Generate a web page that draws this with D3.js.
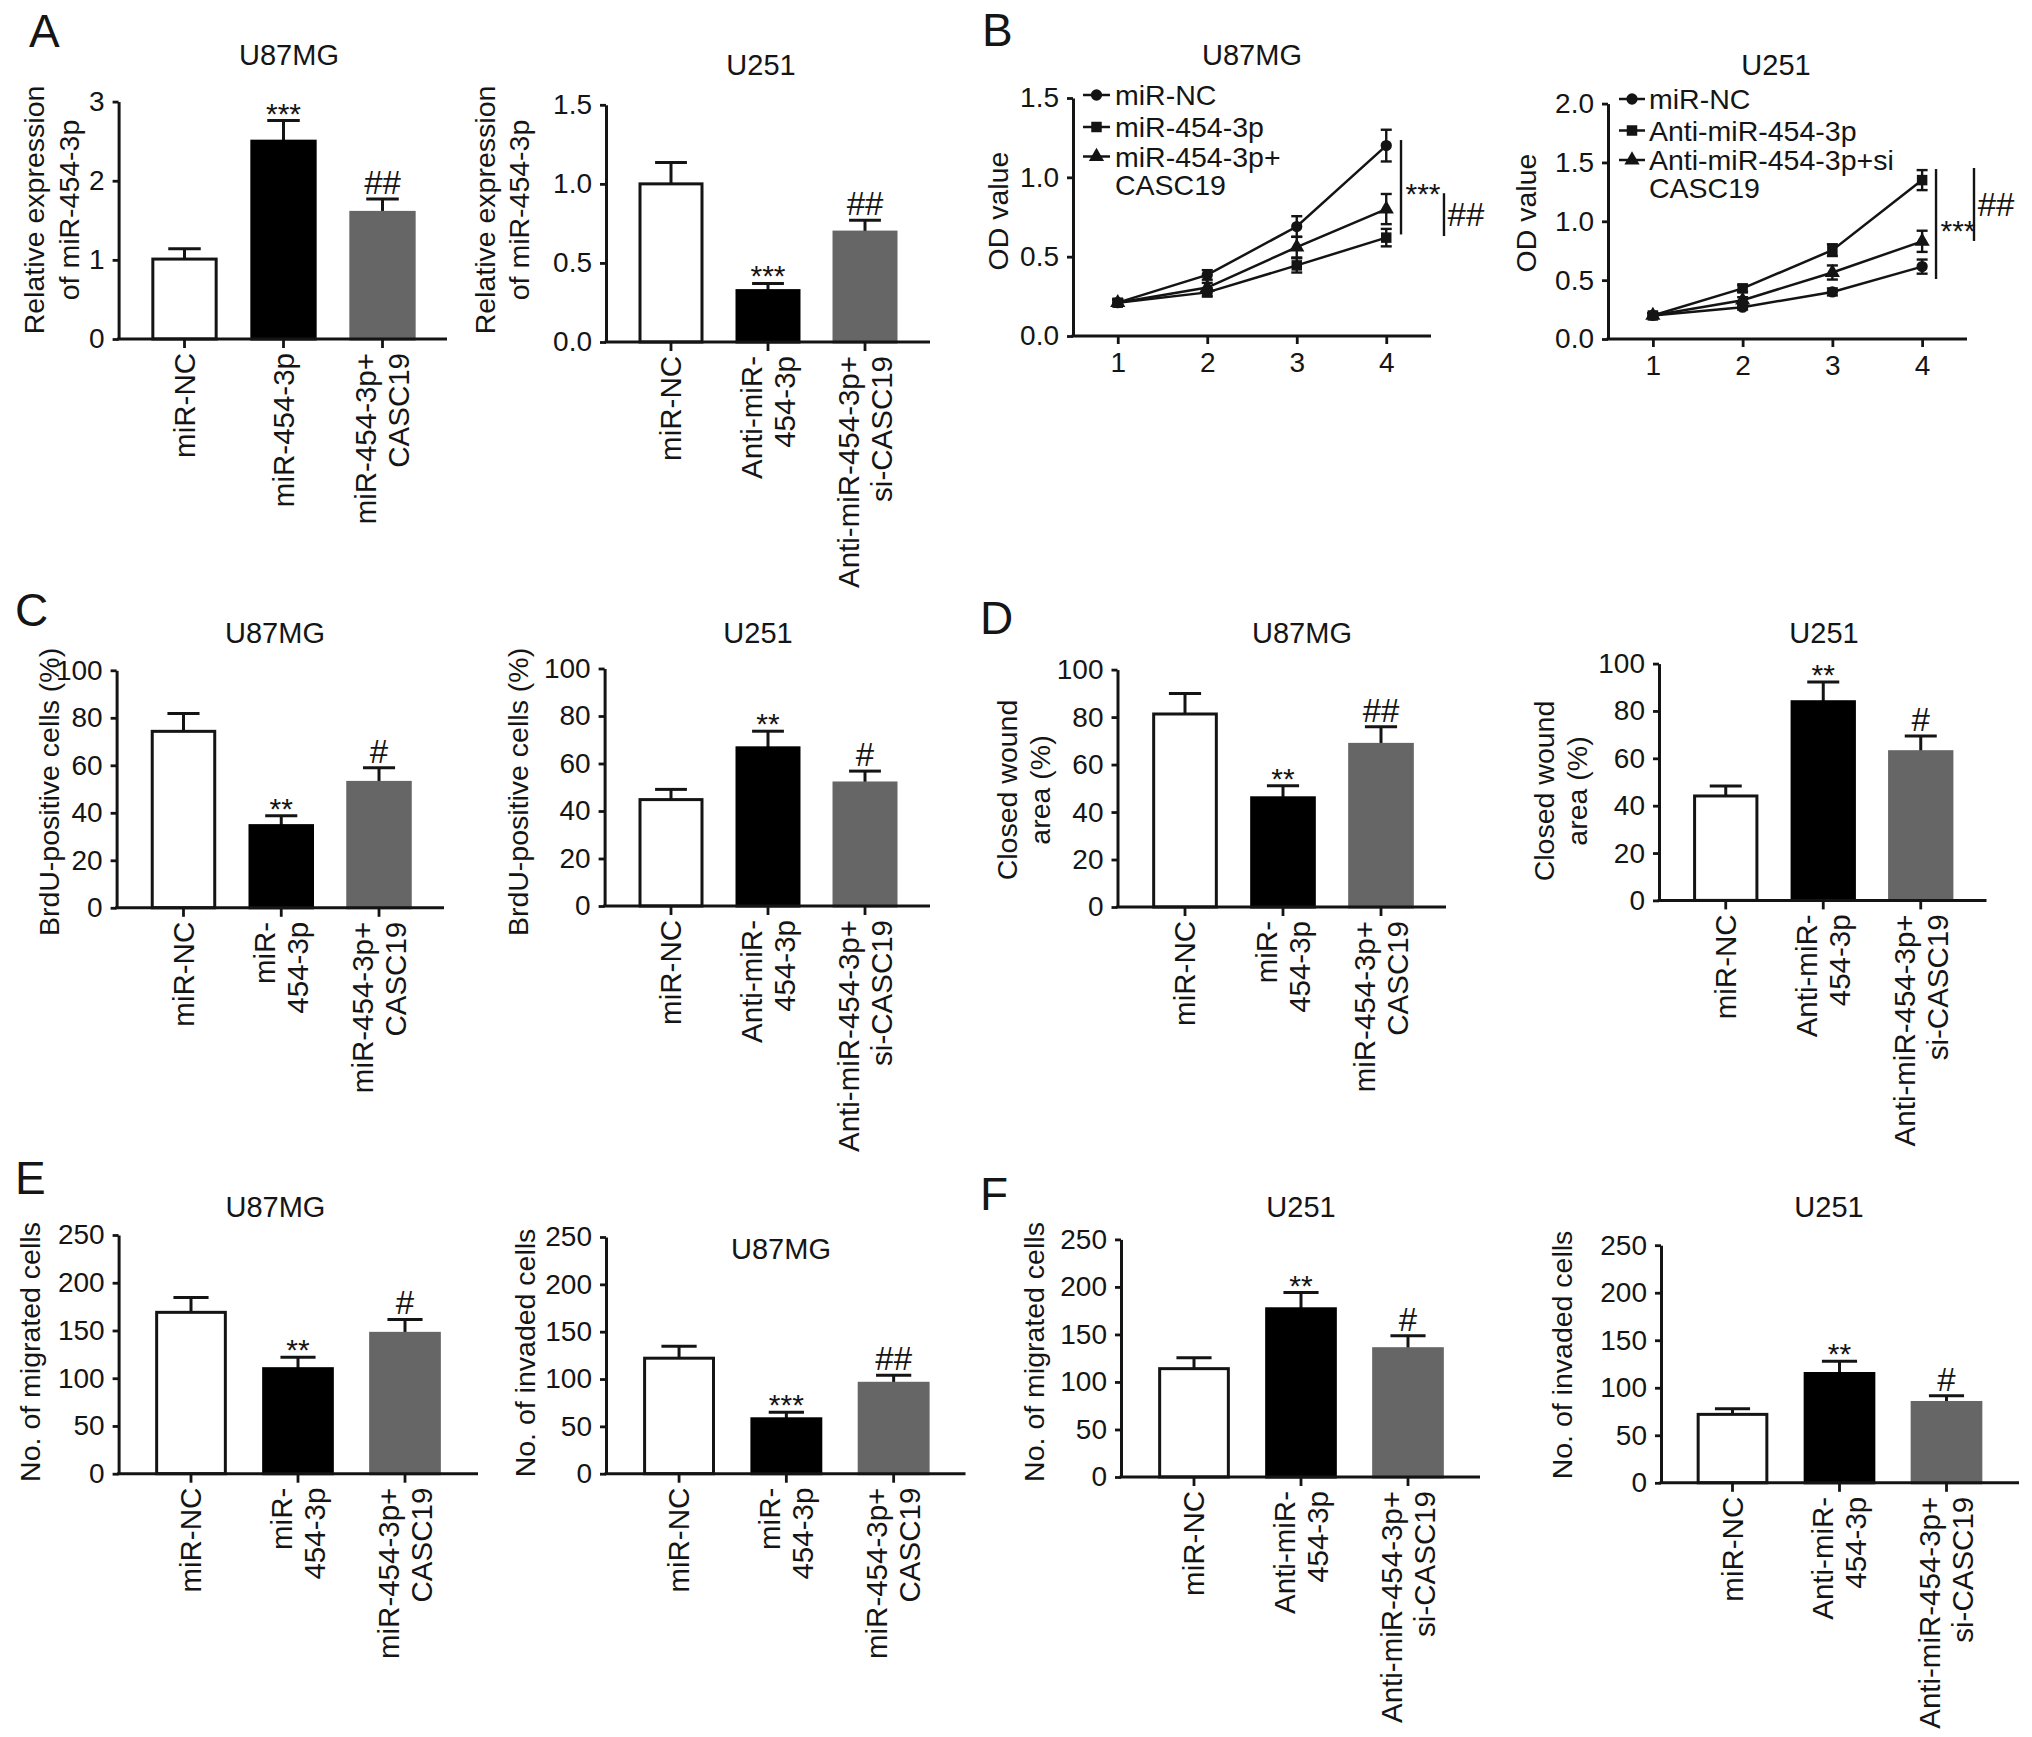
<!DOCTYPE html>
<html><head><meta charset="utf-8">
<script src="https://cdn.jsdelivr.net/npm/d3@7"></script>
<style>
body{margin:0;background:#fff}
text{font-family:"Liberation Sans",Arial,Helvetica,sans-serif;fill:#151515}
</style>
</head><body><script>
// ---------------- DATA ----------------
const labelsU87A = ["miR-NC", "miR-454-3p", "miR-454-3p+|CASC19"];
const labelsU87 = ["miR-NC", "miR-|454-3p", "miR-454-3p+|CASC19"];
const labelsU251 = ["miR-NC", "Anti-miR-|454-3p", "Anti-miR-454-3p+|si-CASC19"];

const ticksA1 = [0, 1, 2, 3];
const ticksA2 = [0, 0.5, 1.0, 1.5];
const ticksPct = [0, 20, 40, 60, 80, 100];
const ticksCells = [0, 50, 100, 150, 200, 250];
const ticksB1 = [0, 0.5, 1.0, 1.5];
const ticksB2 = [0, 0.5, 1.0, 1.5, 2.0];

const aLeftMean = [1.01, 2.50, 1.60];   const aLeftErr = [0.13, 0.26, 0.17];   const aLeftSig = ["", "***", "##"];
const aRightMean = [1.00, 0.325, 0.695]; const aRightErr = [0.135, 0.045, 0.075]; const aRightSig = ["", "***", "##"];
const cLeftMean = [74.3, 34.6, 52.8];   const cLeftErr = [7.5, 4.2, 6.2];      const cLeftSig = ["", "**", "#"];
const cRightMean = [44.8, 66.6, 51.8];  const cRightErr = [4.3, 7.0, 5.0];     const cRightSig = ["", "**", "#"];
const dLeftMean = [81.3, 46.0, 68.5];   const dLeftErr = [8.6, 5.1, 7.4];      const dLeftSig = ["", "**", "##"];
const dRightMean = [44.1, 83.9, 62.8];  const dRightErr = [4.2, 8.3, 6.6];     const dRightSig = ["", "**", "#"];
const eLeftMean = [169, 110, 147];      const eLeftErr = [15.5, 12, 14.5];     const eLeftSig = ["", "**", "#"];
const eRightMean = [122, 58, 95.5];     const eRightErr = [12.5, 7, 8.5];      const eRightSig = ["", "***", "##"];
const fLeftMean = [114, 177, 135];      const fLeftErr = [11.5, 17, 13.5];     const fLeftSig = ["", "**", "#"];
const fRightMean = [72, 115, 84.5];     const fRightErr = [6, 13, 7];          const fRightSig = ["", "**", "#"];

const days = [1, 2, 3, 4];
const bLeftNC = [0.21, 0.385, 0.69, 1.20];     const bLeftNCErr = [0.02, 0.03, 0.065, 0.10];
const bLeftMiR = [0.21, 0.275, 0.445, 0.62];   const bLeftMiRErr = [0.02, 0.025, 0.045, 0.055];
const bLeftCombo = [0.21, 0.305, 0.56, 0.80];  const bLeftComboErr = [0.02, 0.03, 0.065, 0.095];
const bRightNC = [0.20, 0.27, 0.40, 0.615];    const bRightNCErr = [0.02, 0.02, 0.03, 0.06];
const bRightAnti = [0.20, 0.43, 0.755, 1.35];  const bRightAntiErr = [0.02, 0.03, 0.05, 0.085];
const bRightCombo = [0.20, 0.33, 0.565, 0.83]; const bRightComboErr = [0.02, 0.025, 0.06, 0.09];
const bLeftLegend = ["miR-NC", "miR-454-3p", "miR-454-3p+", "CASC19"];
const bRightLegend = ["miR-NC", "Anti-miR-454-3p", "Anti-miR-454-3p+si", "CASC19"];
const bLeftSig = [{lo: 0.64, hi: 1.235, label: "***"}, {lo: 0.63, hi: 0.90, label: "##"}];
const bRightSig = [{lo: 0.51, hi: 1.444, label: "***"}, {lo: 0.833, hi: 1.453, label: "##"}];

// ---------------- STYLE / LAYOUT ----------------
const W = 2032, H = 1737;
const INK = "#141414";
const fills = ["#ffffff", "#000000", "#666666"];
const strokes = [INK, "#000000", "#666666"];
const FS = {tick: 28, title: 29, cat: 29.5, ylab: 28.5, star: 30, hash: 33, letter: 46, legend: 28.5};

const svg = d3.select("body").append("svg").attr("width", W).attr("height", H)
  .attr("viewBox", `0 0 ${W} ${H}`);
svg.append("rect").attr("width", W).attr("height", H).attr("fill", "#fff");

function styleAxis(g) {
  g.select(".domain").attr("stroke", INK).attr("stroke-width", 3);
  g.selectAll(".tick line").attr("stroke", INK).attr("stroke-width", 2.8);
  g.selectAll(".tick text").attr("font-size", FS.tick).attr("fill", INK)
    .style("font-family", '"Liberation Sans",Arial,sans-serif');
}

function yLabel(g, lines, xs, yc) {
  lines.forEach((t, j) => {
    g.append("text").attr("transform", `translate(${xs[j]},${yc}) rotate(-90)`)
      .attr("text-anchor", "middle").attr("dy", "0.35em").attr("font-size", FS.ylab).text(t);
  });
}

function sigText(g, cx, yRef, label, centered) {
  const star = label.includes("*");
  const fs = star ? FS.star : FS.hash;
  // yRef: error cap (bar charts) or vertical centre (bracket labels)
  const yb = centered ? yRef + (star ? 0.57 * fs : 0.35 * fs) : yRef + (star ? 3 : -5);
  g.append("text").attr("x", cx).attr("y", yb).attr("text-anchor", "middle")
    .attr("font-size", fs).text(label);
}

function fmtFor(ticks) {
  const dec = ticks.some(v => v % 1 !== 0);
  return d => dec ? d3.format(".1f")(d) : d3.format("d")(d);
}

function barPanel(p) {
  const L = p.L;
  const g = svg.append("g");
  const x = d3.scaleBand().domain(d3.range(p.mean.length)).range([L.b0, L.b1])
    .paddingInner(0.33).paddingOuter(0.165);
  const ymax = p.ticks[p.ticks.length - 1];
  const y = d3.scaleLinear().domain([0, ymax]).range([L.y0, L.yt]);
  const bw = x.bandwidth();

  p.mean.forEach((m, i) => {
    const cx = x(i) + bw / 2, yt = y(m + p.err[i]);
    g.append("line").attr("x1", cx).attr("x2", cx).attr("y1", y(m)).attr("y2", yt)
      .attr("stroke", INK).attr("stroke-width", 3);
    g.append("line").attr("x1", cx - bw * 0.245).attr("x2", cx + bw * 0.245).attr("y1", yt).attr("y2", yt)
      .attr("stroke", INK).attr("stroke-width", 3);
    if (p.sig[i]) sigText(g, cx, yt, p.sig[i], false);
  });
  g.selectAll("rect.bar").data(p.mean).join("rect").attr("class", "bar")
    .attr("x", (d, i) => x(i) + 1.5).attr("width", bw - 3)
    .attr("y", d => y(d)).attr("height", d => L.y0 - y(d))
    .attr("fill", (d, i) => fills[i]).attr("stroke", (d, i) => strokes[i]).attr("stroke-width", 3);

  const ya = d3.axisLeft(y).tickValues(p.ticks).tickFormat(fmtFor(p.ticks)).tickSize(6).tickPadding(8).tickSizeOuter(0);
  styleAxis(g.append("g").attr("transform", `translate(${L.ax},0)`).call(ya));
  const xa = d3.axisBottom(x).tickSize(9).tickFormat("").tickSizeOuter(0);
  const xg = g.append("g").attr("transform", `translate(0,${L.y0})`).call(xa);
  xg.select(".domain").remove();
  styleAxis(xg);
  g.append("line").attr("x1", L.ax - 1.5).attr("x2", L.ex).attr("y1", L.y0).attr("y2", L.y0)
    .attr("stroke", INK).attr("stroke-width", 3);

  p.labels.forEach((lab, i) => {
    const lines = lab.split("|");
    const cx = x(i) + bw / 2;
    lines.forEach((t, j) => {
      const off = (j - (lines.length - 1) / 2) * 33;
      g.append("text").attr("transform", `translate(${cx + off},${L.y0 + 14}) rotate(-90)`)
        .attr("text-anchor", "end").attr("dy", "0.35em").attr("font-size", FS.cat).text(t);
    });
  });
  g.append("text").attr("x", L.tx).attr("y", L.ty).attr("text-anchor", "middle")
    .attr("font-size", FS.title).text(p.title);
  yLabel(g, p.ylab, L.lx, L.ly);
}

const shapes = [d3.symbolCircle, d3.symbolSquare, d3.symbolTriangle];
const sizes = [100, 110, 100];

function linePanel(p) {
  const L = p.L;
  const g = svg.append("g");
  const x = d3.scaleLinear().domain([0.5, 4.5]).range([L.ax, L.ex]);
  const ymax = p.ticks[p.ticks.length - 1];
  const y = d3.scaleLinear().domain([0, ymax]).range([L.y0, L.yt]);
  const line = d3.line().x((d, i) => x(days[i])).y(d => y(d));

  p.series.forEach(s => {
    g.append("path").attr("d", line(s.v)).attr("fill", "none").attr("stroke", INK).attr("stroke-width", 2.5);
    s.v.forEach((v, i) => {
      const cx = x(days[i]), e = s.e[i];
      g.append("line").attr("x1", cx).attr("x2", cx).attr("y1", y(v - e)).attr("y2", y(v + e))
        .attr("stroke", INK).attr("stroke-width", 2.4);
      [v - e, v + e].forEach(w => g.append("line").attr("x1", cx - 5.5).attr("x2", cx + 5.5)
        .attr("y1", y(w)).attr("y2", y(w)).attr("stroke", INK).attr("stroke-width", 2.4));
      g.append("path").attr("d", d3.symbol().type(shapes[s.shape]).size(sizes[s.shape])())
        .attr("transform", `translate(${cx},${y(v)})`).attr("fill", INK);
    });
  });

  const ya = d3.axisLeft(y).tickValues(p.ticks).tickFormat(d3.format(".1f")).tickSize(6).tickPadding(8).tickSizeOuter(0);
  styleAxis(g.append("g").attr("transform", `translate(${L.ax},0)`).call(ya));
  const xa = d3.axisBottom(x).tickValues(days).tickFormat(d3.format("d")).tickSize(8).tickPadding(8).tickSizeOuter(0);
  const xg = g.append("g").attr("transform", `translate(0,${L.y0})`).call(xa);
  xg.select(".domain").remove();
  styleAxis(xg);
  g.append("line").attr("x1", L.ax - 1.5).attr("x2", L.ex).attr("y1", L.y0).attr("y2", L.y0)
    .attr("stroke", INK).attr("stroke-width", 3);

  p.sig.forEach((s, k) => {
    const sx = x(L.sigX[k]);
    g.append("line").attr("x1", sx).attr("x2", sx).attr("y1", y(s.hi)).attr("y2", y(s.lo))
      .attr("stroke", INK).attr("stroke-width", 2.4);
    sigText(g, sx + 22, y((s.hi + s.lo) / 2), s.label, true);
  });

  p.legend.forEach((t, k) => {
    const ry = L.legRows[k];
    if (k < 3) {
      g.append("line").attr("x1", L.legLine[0]).attr("x2", L.legLine[1]).attr("y1", ry).attr("y2", ry)
        .attr("stroke", INK).attr("stroke-width", 2.5);
      g.append("path").attr("d", d3.symbol().type(shapes[k]).size(sizes[k])())
        .attr("transform", `translate(${L.legMark},${ry})`).attr("fill", INK);
    }
    g.append("text").attr("x", L.legText).attr("y", ry).attr("dy", "0.36em")
      .attr("font-size", FS.legend).text(t);
  });

  g.append("text").attr("x", L.tx).attr("y", L.ty).attr("text-anchor", "middle")
    .attr("font-size", FS.title).text(p.title);
  yLabel(g, ["OD value"], [L.lx], L.ly);
}

// ---------------- PANELS ----------------
barPanel({title: "U87MG", labels: labelsU87A, mean: aLeftMean, err: aLeftErr, sig: aLeftSig, ticks: ticksA1,
  ylab: ["Relative expression", "of miR-454-3p"],
  L: {ax: 118.6, ex: 447, y0: 339, yt: 101.6, b0: 135, b1: 432, tx: 289, ty: 65, lx: [34, 69], ly: 210}});
barPanel({title: "U251", labels: labelsU251, mean: aRightMean, err: aRightErr, sig: aRightSig, ticks: ticksA2,
  ylab: ["Relative expression", "of miR-454-3p"],
  L: {ax: 606, ex: 930, y0: 342, yt: 104.8, b0: 622.5, b1: 913.5, tx: 761, ty: 75, lx: [485, 519], ly: 210}});

linePanel({title: "U87MG", ticks: ticksB1, legend: bLeftLegend, sig: bLeftSig,
  series: [{v: bLeftNC, e: bLeftNCErr, shape: 0}, {v: bLeftMiR, e: bLeftMiRErr, shape: 1}, {v: bLeftCombo, e: bLeftComboErr, shape: 2}],
  L: {ax: 1073, ex: 1431, y0: 336, yt: 98, tx: 1252, ty: 65, lx: 998, ly: 211, sigX: [4.165, 4.645],
      legLine: [1083, 1110], legMark: 1096.5, legText: 1115, legRows: [95, 127, 156.5, 185]}});
linePanel({title: "U251", ticks: ticksB2, legend: bRightLegend, sig: bRightSig,
  series: [{v: bRightNC, e: bRightNCErr, shape: 0}, {v: bRightAnti, e: bRightAntiErr, shape: 1}, {v: bRightCombo, e: bRightComboErr, shape: 2}],
  L: {ax: 1608, ex: 1967, y0: 339, yt: 103.6, tx: 1776, ty: 75, lx: 1526, ly: 213, sigX: [4.155, 4.578],
      legLine: [1619, 1645], legMark: 1632, legText: 1649, legRows: [99, 130.5, 160, 188]}});

barPanel({title: "U87MG", labels: labelsU87, mean: cLeftMean, err: cLeftErr, sig: cLeftSig, ticks: ticksPct,
  ylab: ["BrdU-positive cells (%)"],
  L: {ax: 116.6, ex: 444, y0: 907.8, yt: 670.3, b0: 134.6, b1: 427.9, tx: 275, ty: 643, lx: [48.6], ly: 792}});
barPanel({title: "U251", labels: labelsU251, mean: cRightMean, err: cRightErr, sig: cRightSig, ticks: ticksPct,
  ylab: ["BrdU-positive cells (%)"],
  L: {ax: 604.6, ex: 930, y0: 906, yt: 668.5, b0: 622.5, b1: 913.5, tx: 758, ty: 643, lx: [518], ly: 792}});
barPanel({title: "U87MG", labels: labelsU87, mean: dLeftMean, err: dLeftErr, sig: dLeftSig, ticks: ticksPct,
  ylab: ["Closed wound", "area (%)"],
  L: {ax: 1117.5, ex: 1446, y0: 907, yt: 669.6, b0: 1136, b1: 1430, tx: 1302, ty: 643, lx: [1007, 1040], ly: 790}});
barPanel({title: "U251", labels: labelsU251, mean: dRightMean, err: dRightErr, sig: dRightSig, ticks: ticksPct,
  ylab: ["Closed wound", "area (%)"],
  L: {ax: 1659, ex: 1986.5, y0: 900.4, yt: 663.6, b0: 1677, b1: 1969.5, tx: 1824, ty: 643, lx: [1543.6, 1577], ly: 791}});

barPanel({title: "U87MG", labels: labelsU87, mean: eLeftMean, err: eLeftErr, sig: eLeftSig, ticks: ticksCells,
  ylab: ["No. of migrated cells"],
  L: {ax: 118.6, ex: 478, y0: 1473.7, yt: 1235, b0: 137.5, b1: 458.5, tx: 275.4, ty: 1217, lx: [30], ly: 1352}});
barPanel({title: "U87MG", labels: labelsU87, mean: eRightMean, err: eRightErr, sig: eRightSig, ticks: ticksCells,
  ylab: ["No. of invaded cells"],
  L: {ax: 606, ex: 965.5, y0: 1473.7, yt: 1237, b0: 625.4, b1: 947.3, tx: 781, ty: 1259, lx: [525], ly: 1353}});
barPanel({title: "U251", labels: labelsU251, mean: fLeftMean, err: fLeftErr, sig: fLeftSig, ticks: ticksCells,
  ylab: ["No. of migrated cells"],
  L: {ax: 1121, ex: 1480, y0: 1477, yt: 1239.4, b0: 1140.5, b1: 1461.5, tx: 1301, ty: 1217, lx: [1033.7], ly: 1352}});
barPanel({title: "U251", labels: labelsU251, mean: fRightMean, err: fRightErr, sig: fRightSig, ticks: ticksCells,
  ylab: ["No. of invaded cells"],
  L: {ax: 1661, ex: 2019, y0: 1482.8, yt: 1245.2, b0: 1679, b1: 2000, tx: 1829, ty: 1217, lx: [1562], ly: 1355}});

// panel letters
[["A", 29, 47], ["B", 982, 46], ["C", 15, 626], ["D", 980, 634], ["E", 15, 1194], ["F", 980, 1210]]
  .forEach(([t, lx, ly]) => svg.append("text").attr("x", lx).attr("y", ly).attr("font-size", FS.letter)
    .attr("fill", "#000").text(t));
</script></body></html>
